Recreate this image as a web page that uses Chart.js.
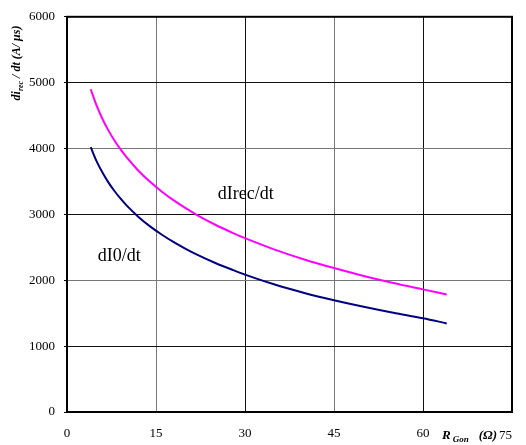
<!DOCTYPE html>
<html>
<head>
<meta charset="utf-8">
<script src="https://cdn.jsdelivr.net/npm/chart.js@4.4.1/dist/chart.umd.min.js"></script>
<style>
html,body{margin:0;padding:0;background:#fff;}
#wrap{width:526px;height:445px;position:relative;}
</style>
</head>
<body>
<div id="wrap"><canvas id="c" width="526" height="445"></canvas></div>
<script>
// Data
const rgon    = [4, 5, 6, 7, 8, 9, 10, 12, 14, 16, 18, 20, 22, 25, 28, 30, 35, 40, 45, 50, 55, 60, 64];
const dIrecdt = [4900, 4650, 4445, 4272, 4122, 3990, 3872, 3667, 3494, 3345, 3213, 3095, 2987, 2843, 2717, 2639, 2466, 2316, 2185, 2066, 1959, 1862, 1785];
const dI0dt   = [4020, 3806, 3632, 3483, 3355, 3242, 3141, 2966, 2818, 2691, 2578, 2477, 2385, 2262, 2154, 2085, 1935, 1808, 1697, 1597, 1506, 1424, 1345];
const xTicks = [0, 15, 30, 45, 60, 75];
const yTicks = [0, 1000, 2000, 3000, 4000, 5000, 6000];
const seriesNames = ['dIrec/dt', 'dI0/dt'];

const serif = "'Liberation Serif', 'Times New Roman', serif";

const toPts = (xs, ys) => xs.map((x, i) => ({x: x, y: ys[i]}));

const decor = {
  id: 'decor',
  afterDraw(chart) {
    const ctx = chart.ctx;
    const a = chart.chartArea;
    const xs = chart.scales.x, ys = chart.scales.y;
    ctx.save();
    // frame
    ctx.strokeStyle = '#000';
    ctx.lineWidth = 2;
    ctx.strokeRect(a.left, a.top, a.right - a.left, a.bottom - a.top);
    // in-plot labels
    ctx.fillStyle = '#000';
    ctx.font = "18px " + serif;
    ctx.textAlign = 'left';
    ctx.textBaseline = 'middle';
    ctx.fillText(seriesNames[0], xs.getPixelForValue(25.4), ys.getPixelForValue(3300));
    ctx.fillText(seriesNames[1], xs.getPixelForValue(5.2), ys.getPixelForValue(2360));
    // x axis title: R_Gon (Ω) and the 75 tick
    ctx.textBaseline = 'alphabetic';
    let xb = 439;
    let px = 442;
    ctx.font = "bold italic 13px " + serif;
    ctx.fillText('R', px, xb);
    px += ctx.measureText('R').width + 2;
    ctx.font = "bold italic 9px " + serif;
    ctx.fillText('Gon', px, xb + 3);
    px += ctx.measureText('Gon').width + 10;
    ctx.font = "bold italic 13px " + serif;
    ctx.fillText('(Ω)', px, xb);
    px += ctx.measureText('(Ω)').width + 2;
    ctx.font = "13px " + serif;
    ctx.fillText('75', px, xb);
    // y axis title rotated
    ctx.translate(16, 63);
    ctx.rotate(-Math.PI / 2);
    const parts = [
      ['di', "bold italic 12px " + serif, 0],
      ['rec', "bold italic 8px " + serif, 3],
      [' / dt (A/ μs)', "bold italic 12px " + serif, 0]
    ];
    let total = 0;
    parts.forEach(p => { ctx.font = p[1]; total += ctx.measureText(p[0]).width; });
    let cx = -total / 2;
    parts.forEach(p => {
      ctx.font = p[1];
      ctx.fillText(p[0], cx, 4 + p[2]);
      cx += ctx.measureText(p[0]).width;
    });
    ctx.restore();
  }
};

new Chart(document.getElementById('c'), {
  type: 'line',
  data: {
    datasets: [
      {
        label: seriesNames[0],
        data: toPts(rgon, dIrecdt),
        borderColor: '#FF00FF',
        borderWidth: 2,
        pointRadius: 0,
        cubicInterpolationMode: 'monotone',
        fill: false
      },
      {
        label: seriesNames[1],
        data: toPts(rgon, dI0dt),
        borderColor: '#000080',
        borderWidth: 2,
        pointRadius: 0,
        cubicInterpolationMode: 'monotone',
        fill: false
      }
    ]
  },
  options: {
    responsive: false,
    animation: false,
    devicePixelRatio: 1,
    layout: {padding: {top: 13, right: 13, left: 0, bottom: 0}},
    plugins: {legend: {display: false}, tooltip: {enabled: false}},
    scales: {
      x: {
        type: 'linear',
        min: 0, max: 75,
        afterBuildTicks: s => { s.ticks = xTicks.map(v => ({value: v})); },
        afterFit: s => { s.height = 33; },
        ticks: {
          font: {family: serif, size: 13},
          color: '#000',
          padding: 14,
          maxRotation: 0,
          callback: v => (v === 75 ? '' : String(v))
        },
        grid: {
          color: ctx => (ctx.tick && (ctx.tick.value === 15 || ctx.tick.value === 45) ? '#777' : '#111'),
          lineWidth: 1,
          drawTicks: false
        },
        border: {color: '#000', width: 2}
      },
      y: {
        min: 0, max: 6000,
        afterBuildTicks: s => { s.ticks = yTicks.map(v => ({value: v})); },
        afterFit: s => { s.width = 67; },
        ticks: {
          font: {family: serif, size: 13},
          color: '#000',
          padding: 9,
          callback: v => String(v)
        },
        grid: {
          color: ctx => (ctx.tick && (ctx.tick.value % 2000 === 0) ? '#777' : '#111'),
          lineWidth: 1,
          tickLength: 3,
          tickColor: '#000'
        },
        border: {color: '#000', width: 2}
      }
    }
  },
  plugins: [decor]
});
</script>
</body>
</html>
